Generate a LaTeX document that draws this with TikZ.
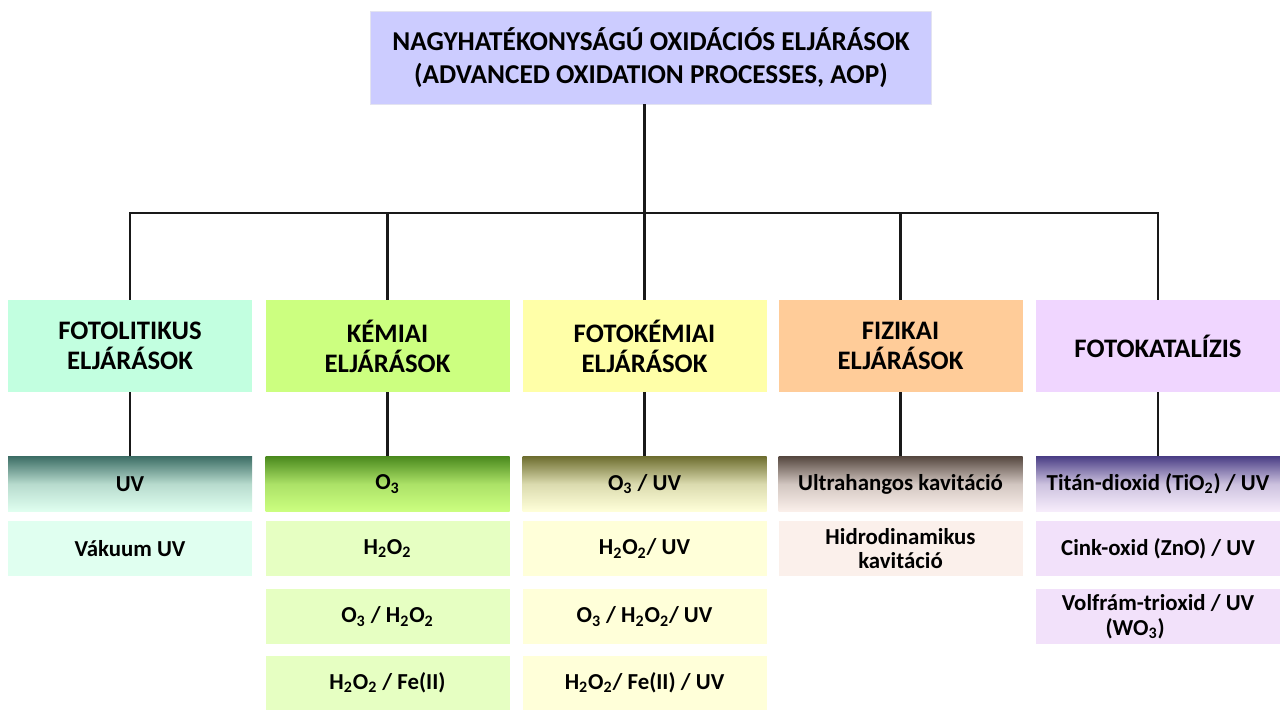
\documentclass[tikz,border=0pt]{standalone}
\usepackage{fontspec}
\setmainfont{Carlito}
\usetikzlibrary{positioning}
\definecolor{AopLila}{HTML}{CCCCFF}
\definecolor{FotoMint}{HTML}{C2FFE0}
\definecolor{KemZold}{HTML}{CCFF80}
\definecolor{FkSarga}{HTML}{FFFFA8}
\definecolor{FizBarack}{HTML}{FFCC99}
\definecolor{KatLila}{HTML}{F0D6FF}
\definecolor{MintLight}{HTML}{E0FFF0}
\definecolor{ZoldLight}{HTML}{E6FFC2}
\definecolor{SargaLight}{HTML}{FFFFD9}
\definecolor{BarackLight}{HTML}{FBF0EB}
\definecolor{LilaLight}{HTML}{F2E1FA}
\definecolor{MintDark}{HTML}{3D6E66}
\definecolor{ZoldDark}{HTML}{4B8A1E}
\definecolor{SargaDark}{HTML}{6E6E30}
\definecolor{BarackDark}{HTML}{564840}
\definecolor{LilaDark}{HTML}{4B3F86}
\tikzset{
  topbox/.style={fill=AopLila,draw=AopLila!80!black!30,minimum width=11.22cm,minimum height=1.86cm,align=center,inner sep=0pt,font=\fontsize{15.5}{19}\selectfont\bfseries},
  catbox/.style={minimum width=4.88cm,minimum height=1.84cm,align=center,inner sep=0pt,font=\fontsize{15.2}{17}\selectfont\bfseries},
  subbox/.style={minimum width=4.88cm,minimum height=1.1cm,align=center,inner sep=0pt,font=\fontsize{13}{14}\selectfont\bfseries},
  headbox/.style 2 args={subbox,top color=#1,bottom color=#2,middle color=#2!75!#1},
  treeline/.style={line width=1.2pt,draw=black!90}
}
\newcommand{\sub}[1]{\textsubscript{#1}}
\begin{document}
\begin{tikzpicture}
\useasboundingbox (0,0) rectangle (25.6,-14.2);
% root
\node[topbox] (aop) at (13.02,-1.15) {NAGYHATÉKONYSÁGÚ OXIDÁCIÓS ELJÁRÁSOK\\(ADVANCED OXIDATION PROCESSES, AOP)};
% categories
\node[catbox,fill=FotoMint] (foto) at (2.6,-6.92) {FOTOLITIKUS\\ELJÁRÁSOK};
\node[catbox,fill=KemZold] (kem) at (7.75,-6.92) {KÉMIAI\\ELJÁRÁSOK};
\node[catbox,fill=FkSarga] (fotokem) at (12.89,-6.92) {FOTOKÉMIAI\\ELJÁRÁSOK};
\node[catbox,fill=FizBarack] (fiz) at (18.01,-6.92) {FIZIKAI\\ELJÁRÁSOK};
\node[catbox,fill=KatLila] (kat) at (23.16,-6.92) {FOTOKATALÍZIS};
% first rows, shaded
\node[headbox={MintDark}{MintLight}] (uv) at (2.6,-9.68) {UV};
\node[headbox={ZoldDark}{KemZold}] (ozon) at (7.75,-9.68) {O\sub{3}};
\node[headbox={SargaDark}{SargaLight}] (ozonuv) at (12.89,-9.68) {O\sub{3} / UV};
\node[headbox={BarackDark}{BarackLight}] (ultra) at (18.01,-9.68) {Ultrahangos kavitáció};
\node[headbox={LilaDark}{LilaLight!60!white}] (tio) at (23.16,-9.68) {Titán-dioxid (TiO\sub{2}) / UV};
% further rows
\node[subbox,fill=MintLight] (vuv) at (2.6,-10.97) {Vákuum UV};
\node[subbox,fill=ZoldLight] (hp) at (7.75,-10.97) {H\sub{2}O\sub{2}};
\node[subbox,fill=ZoldLight] (ozhp) at (7.75,-12.33) {O\sub{3} / H\sub{2}O\sub{2}};
\node[subbox,fill=ZoldLight] (fenton) at (7.75,-13.66) {H\sub{2}O\sub{2} / Fe(II)};
\node[subbox,fill=SargaLight] (hpuv) at (12.89,-10.97) {H\sub{2}O\sub{2}/ UV};
\node[subbox,fill=SargaLight] (ozhpuv) at (12.89,-12.33) {O\sub{3} / H\sub{2}O\sub{2}/ UV};
\node[subbox,fill=SargaLight] (fotofenton) at (12.89,-13.66) {H\sub{2}O\sub{2}/ Fe(II) / UV};
\node[subbox,fill=BarackLight] (hidro) at (18.01,-10.97) {Hidrodinamikus\\kavitáció};
\node[subbox,fill=LilaLight] (zno) at (23.16,-10.97) {Cink-oxid (ZnO) / UV};
\node[subbox,fill=LilaLight] (wo) at (23.16,-12.33) {Volfrám-trioxid / UV\\(WO\sub{3})\hspace*{2em}};
% connectors
\coordinate (bar) at (12.89,-4.26);
\draw[treeline] (aop.south -| fotokem.north) -- (fotokem.north);
\draw[treeline] (foto.north) -- (foto.north |- bar) -- (kat.north |- bar) -- (kat.north);
\draw[treeline] (kem.north |- bar) -- (kem.north);
\draw[treeline] (fiz.north |- bar) -- (fiz.north);
\draw[treeline] (foto.south) -- (uv.north);
\draw[treeline] (kem.south) -- (ozon.north);
\draw[treeline] (fotokem.south) -- (ozonuv.north);
\draw[treeline] (fiz.south) -- (ultra.north);
\draw[treeline] (kat.south) -- (tio.north);
\end{tikzpicture}
\end{document}
